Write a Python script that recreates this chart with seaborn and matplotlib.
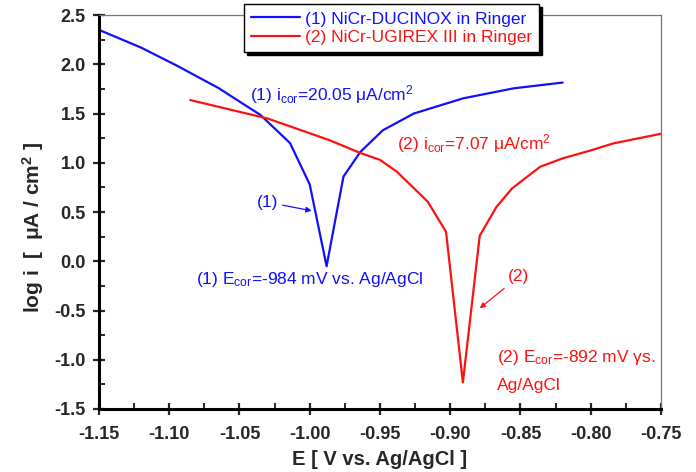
import numpy as np
import pandas as pd
import seaborn as sns
import matplotlib.pyplot as plt
from matplotlib.ticker import MultipleLocator

# polarization curves
E_duc = [-1.15, -1.12, -1.095, -1.065, -1.035, -1.014, -1.0, -0.988, -0.976,
         -0.964, -0.948, -0.926, -0.891, -0.855, -0.82]
logi_duc = [2.35, 2.17, 1.99, 1.76, 1.485, 1.20, 0.78, -0.05, 0.86,
            1.11, 1.33, 1.50, 1.654, 1.756, 1.815]

E_ugi = [-1.085, -1.03, -0.986, -0.964, -0.95, -0.938, -0.916, -0.903, -0.891,
         -0.879, -0.867, -0.856, -0.836, -0.82, -0.799, -0.784, -0.75]
logi_ugi = [1.637, 1.45, 1.23, 1.10, 1.03, 0.91, 0.605, 0.30, -1.23,
            0.26, 0.554, 0.74, 0.96, 1.045, 1.13, 1.197, 1.295]

labels = ["(1) NiCr-DUCINOX in Ringer", "(2) NiCr-UGIREX III in Ringer"]
colors = ["#1010ff", "#ff1010"]

sns.set_style("white")
plt.rcParams['font.family'] = ['Liberation Sans', 'DejaVu Sans']
plt.rcParams['mathtext.fontset'] = 'custom'
plt.rcParams['mathtext.rm'] = 'Liberation Sans'
plt.rcParams['mathtext.it'] = 'Liberation Sans:italic'
plt.rcParams['mathtext.bf'] = 'Liberation Sans:bold'

fig = plt.figure(figsize=(6.96, 4.72), dpi=100)
ax = fig.add_axes([0.1422, 0.1335, 0.8075, 0.8345])

d1 = pd.DataFrame({'E': E_duc, 'logi': logi_duc})
d2 = pd.DataFrame({'E': E_ugi, 'logi': logi_ugi})
sns.lineplot(data=d1, x='E', y='logi', color=colors[0], lw=1.6, label=labels[0], ax=ax, sort=False)
sns.lineplot(data=d2, x='E', y='logi', color=colors[1], lw=1.6, label=labels[1], ax=ax, sort=False)

ax.set_xlim(-1.15, -0.75)
ax.set_ylim(-1.5, 2.5)
ax.xaxis.set_major_locator(MultipleLocator(0.05))
ax.xaxis.set_minor_locator(MultipleLocator(0.025))
ax.yaxis.set_major_locator(MultipleLocator(0.5))
ax.yaxis.set_minor_locator(MultipleLocator(0.25))
ax.xaxis.set_major_formatter(plt.FuncFormatter(lambda v, p: f"{v:.2f}"))
ax.yaxis.set_major_formatter(plt.FuncFormatter(lambda v, p: f"{v:.1f}"))
ax.tick_params(which='major', direction='inout', length=9, width=1.6, labelsize=13)
ax.tick_params(axis='x', which='major', pad=8)
ax.tick_params(axis='y', which='major', pad=5)
ax.tick_params(which='minor', direction='in', length=4, width=1.4)
ax.tick_params(axis='x', which='both', bottom=True)
ax.tick_params(axis='y', which='both', left=True)
for t in ax.get_xticklabels() + ax.get_yticklabels():
    t.set_fontweight('bold')

for s in ['left', 'bottom']:
    ax.spines[s].set_linewidth(2.2)
    ax.spines[s].set_color('black')
for s in ['top', 'right']:
    ax.spines[s].set_linewidth(0.9)
    ax.spines[s].set_color('#777777')

ax.set_xlabel("E [ V vs. Ag/AgCl ]", fontsize=14.5, fontweight='bold', labelpad=5)
ax.set_ylabel(r"log i  [  μA / cm$^{\mathbf{2}}$ ]", fontsize=15, fontweight='bold')
ax.yaxis.set_label_coords(-0.094, 0.46)

# annotations
fs = 12.5
ax.text(-1.0425, 1.69, r"(1) i$_{\rm cor}$=20.05 μA/cm$^{2}$", color=colors[0], fontsize=fs, va='center')
ax.text(-0.938, 1.20, r"(2) i$_{\rm cor}$=7.07 μA/cm$^{2}$", color=colors[1], fontsize=fs, va='center')
ax.text(-1.081, -0.19, r"(1) E$_{\rm cor}$=-984 mV vs. Ag/AgCl", color=colors[0], fontsize=fs, va='center')
ax.text(-0.867, -0.98, r"(2) E$_{\rm cor}$=-892 mV γs.", color=colors[1], fontsize=fs, va='center')
ax.text(-0.867, -1.26, "Ag/AgCl", color=colors[1], fontsize=fs, va='center')
ax.annotate("(1)", xy=(-0.9986, 0.513), xytext=(-1.0226, 0.60), color=colors[0], fontsize=fs,
            ha='right', va='center',
            arrowprops=dict(arrowstyle='-|>', color=colors[0], lw=0.9, mutation_scale=8, shrinkA=1, shrinkB=0))
ax.annotate("(2)", xy=(-0.879, -0.478), xytext=(-0.859, -0.157), color=colors[1], fontsize=fs,
            ha='left', va='center',
            arrowprops=dict(arrowstyle='-|>', color=colors[1], lw=0.9, mutation_scale=8, shrinkA=1, shrinkB=0))

leg = ax.legend(loc='upper center', bbox_to_anchor=(0.521, 1.027), fontsize=12.5, frameon=True,
                fancybox=False, shadow={'color': 'black', 'alpha': 1}, handlelength=2.8,
                borderpad=0.4, labelspacing=0.2, handletextpad=0.3, borderaxespad=0)
leg.get_frame().set_edgecolor('black')
leg.get_frame().set_linewidth(1.0)
for txt, c in zip(leg.get_texts(), colors):
    txt.set_color(c)
leg.set_zorder(5)

fig.savefig("out.png", dpi=100)
